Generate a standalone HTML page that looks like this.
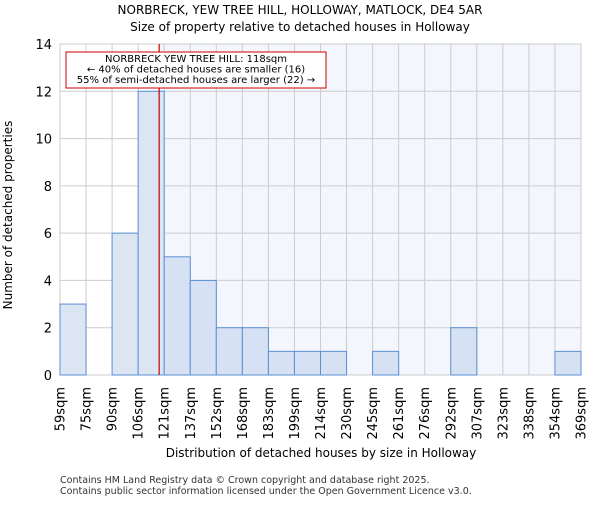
<!DOCTYPE html>
<html><head><meta charset="utf-8"><style>body{margin:0;background:#fff}svg{font-family:"DejaVu Sans","Liberation Sans",sans-serif}</style></head>
<body>
<svg id="c" width="600" height="500">
<text x="300" y="14" text-anchor="middle" font-size="12">NORBRECK, YEW TREE HILL, HOLLOWAY, MATLOCK, DE4 5AR</text>
<text x="300" y="31" text-anchor="middle" font-size="12">Size of property relative to detached houses in Holloway</text>
<g id="plot"></g>
<text x="321" y="457" text-anchor="middle" font-size="12">Distribution of detached houses by size in Holloway</text>
<text transform="translate(12,215) rotate(-90)" text-anchor="middle" font-size="12">Number of detached properties</text>
<text x="60" y="483" font-size="9.5" fill="#333">Contains HM Land Registry data © Crown copyright and database right 2025.</text>
<text x="60" y="494" font-size="9.5" fill="#333">Contains public sector information licensed under the Open Government Licence v3.0.</text>
</svg>
<script>
const labels=["59sqm","75sqm","90sqm","106sqm","121sqm","137sqm","152sqm","168sqm","183sqm","199sqm","214sqm","230sqm","245sqm","261sqm","276sqm","292sqm","307sqm","323sqm","338sqm","354sqm","369sqm"];
const counts=[3,0,6,12,5,4,2,2,1,1,1,0,1,0,0,2,0,0,0,1];
const yTicks=[0,2,4,6,8,10,12,14];
const marker=118;
const binEdges=[59,74.5,90,105.5,121,136.5,152,167.5,183,198.5,214,229.5,245,260.5,276,291.5,307,322.5,338,353.5,369];
const L=60,R=581,T=44,B=375,yMax=14,n=counts.length;
const bw=(R-L)/n;
const x=i=>L+i*bw;
const y=v=>B-(v/yMax)*(B-T);
function xv(v){for(let i=0;i<n;i++){if(v<=binEdges[i+1])return x(i)+(v-binEdges[i])/(binEdges[i+1]-binEdges[i])*bw;}return R;}
const g=document.getElementById('plot');const NS='http://www.w3.org/2000/svg';
function mk(t,a,p){const e=document.createElementNS(NS,t);for(const k in a)e.setAttribute(k,a[k]);(p||g).appendChild(e);return e;}
const mx=xv(marker);
let e=mk('rect',{x:mx,y:T,width:R-mx,height:B-T,fill:'#f3f6fd'});


for(let i=0;i<=n;i++){e=mk('line',{x1:x(i),x2:x(i),y1:T,y2:B,stroke:'#cccccc'});

}
yTicks.forEach(v=>{e=mk('line',{x1:L,x2:R,y1:y(v),y2:y(v),stroke:'#cccccc'});


e=mk('text',{x:L-8,y:y(v)+5,'text-anchor':'end','font-size':13});e.textContent=v;

});
counts.forEach((c,i)=>{if(!c)return;e=mk('rect',{x:x(i),y:y(c),width:bw,height:B-y(c),fill:x(i)+bw/2<mx?'#dce5f2':'#d6e1f3',stroke:'#5b8fd6','stroke-width':1});

});
labels.forEach((l,i)=>{e=mk('text',{transform:`translate(${x(i)+4.5},387) rotate(-90)`,'text-anchor':'end','font-size':13});e.textContent=l;

});
e=mk('line',{x1:mx,x2:mx,y1:T,y2:B,stroke:'#cc0000','stroke-width':1.2});


e=mk('rect',{x:66,y:52,width:260,height:36,fill:'#fff',stroke:'#cc0000'});


["NORBRECK YEW TREE HILL: 118sqm","← 40% of detached houses are smaller (16)","55% of semi-detached houses are larger (22) →"].forEach((t,i)=>{e=mk('text',{x:196,y:62+i*10.5,'text-anchor':'middle','font-size':10});e.textContent=t;

});
</script>
</body></html>
